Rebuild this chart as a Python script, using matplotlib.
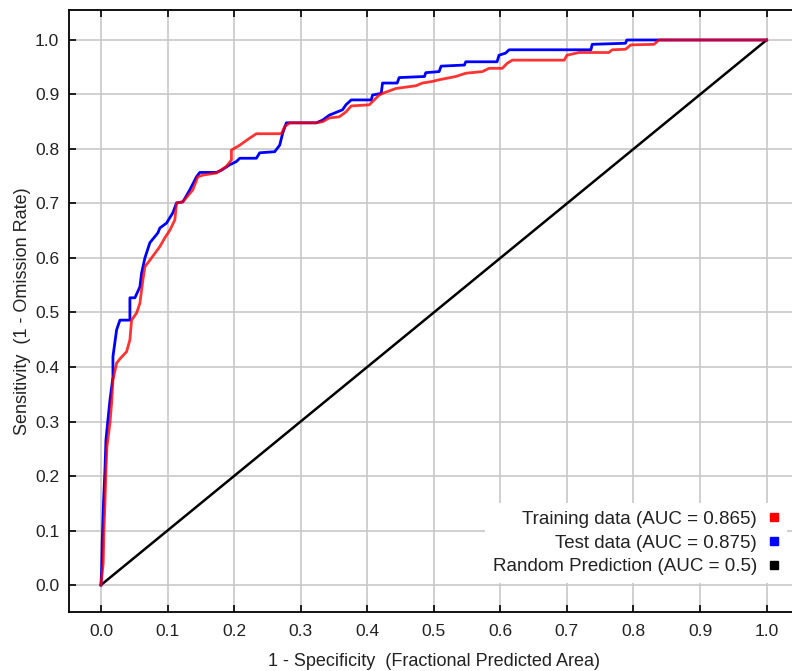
import numpy as np
import matplotlib
matplotlib.use("Agg")
import matplotlib.pyplot as plt
from matplotlib.lines import Line2D

# ROC vertices (x = 1 - specificity, y = sensitivity)
train_x = [0.0, 0.0034, 0.0045, 0.006, 0.0075, 0.009, 0.0135, 0.016, 0.018,
           0.0235, 0.0285, 0.0385, 0.0435, 0.046, 0.0535, 0.0585, 0.063,
           0.066, 0.0735, 0.0885, 0.096, 0.1035, 0.111, 0.1135, 0.123, 0.138,
           0.1455, 0.153, 0.1735, 0.1885, 0.196, 0.196, 0.2085, 0.2235,
           0.2335, 0.271, 0.276, 0.2835, 0.3235, 0.333, 0.343, 0.358, 0.368,
           0.376, 0.403, 0.418, 0.423, 0.443, 0.473, 0.483, 0.498, 0.508,
           0.533, 0.548, 0.573, 0.583, 0.603, 0.610, 0.618, 0.696, 0.700,
           0.718, 0.763, 0.768, 0.788, 0.796, 0.831, 0.838, 1.0]
train_y = [0.0, 0.040, 0.101, 0.150, 0.211, 0.254, 0.297, 0.334, 0.376,
           0.407, 0.415, 0.428, 0.450, 0.486, 0.499, 0.517, 0.560,
           0.584, 0.596, 0.621, 0.637, 0.651, 0.670, 0.701, 0.703, 0.725,
           0.749, 0.752, 0.756, 0.768, 0.780, 0.798, 0.807, 0.820,
           0.828, 0.828, 0.841, 0.848, 0.848, 0.850, 0.857, 0.859, 0.868,
           0.879, 0.881, 0.899, 0.902, 0.911, 0.916, 0.921, 0.924, 0.927,
           0.933, 0.939, 0.942, 0.948, 0.948, 0.957, 0.963, 0.963, 0.972,
           0.977, 0.977, 0.982, 0.983, 0.991, 0.992, 1.0, 1.0]

test_x = [0.0, 0.001, 0.002, 0.004, 0.006, 0.0075, 0.0105, 0.0135, 0.0165,
          0.018, 0.018, 0.0235, 0.0285, 0.0435, 0.0435, 0.051, 0.0585,
          0.061, 0.066, 0.0735, 0.0855, 0.0885, 0.0985, 0.108, 0.1135,
          0.123, 0.1335, 0.1435, 0.1485, 0.1735, 0.181, 0.1935, 0.2035,
          0.2085, 0.2335, 0.2385, 0.261, 0.2685, 0.273, 0.2785, 0.3235,
          0.333, 0.343, 0.363, 0.368, 0.376, 0.406, 0.408, 0.421, 0.423,
          0.445, 0.448, 0.486, 0.488, 0.508, 0.511, 0.546, 0.548, 0.595,
          0.598, 0.608, 0.613, 0.736, 0.738, 0.788, 0.790, 1.0]
test_y = [0.0, 0.028, 0.083, 0.156, 0.211, 0.266, 0.303, 0.339, 0.367,
          0.382, 0.419, 0.468, 0.486, 0.486, 0.527, 0.527, 0.547,
          0.572, 0.600, 0.628, 0.646, 0.655, 0.664, 0.683, 0.701,
          0.703, 0.725, 0.749, 0.757, 0.757, 0.761, 0.771, 0.777,
          0.783, 0.783, 0.793, 0.795, 0.807, 0.829, 0.848, 0.848,
          0.853, 0.862, 0.872, 0.881, 0.890, 0.890, 0.899, 0.902, 0.921,
          0.921, 0.931, 0.933, 0.940, 0.942, 0.952, 0.954, 0.960, 0.960,
          0.972, 0.976, 0.982, 0.982, 0.992, 0.994, 1.0, 1.0]

random_x = [0.0, 1.0]
random_y = [0.0, 1.0]

labels = ["Training data (AUC = 0.865)", "Test data (AUC = 0.875)",
          "Random Prediction (AUC = 0.5)"]
ticks = np.round(np.arange(0, 1.01, 0.1), 1)

plt.rcParams["font.family"] = ["Liberation Sans", "DejaVu Sans"]

fig = plt.figure(figsize=(7.92, 6.71), dpi=100)
ax = fig.add_axes([69 / 792, 1 - 612 / 671, 1 - 69 / 792 + 0.01, (612 - 10) / 671])

ax.plot(random_x, random_y, color="black", lw=1.8, zorder=3)
ax.plot(test_x, test_y, color="#0000ff", lw=2.0, zorder=4)
ax.plot(train_x, train_y, color="#ff0000", lw=2.0, alpha=0.8, zorder=5)

ax.set_xlim(-0.048, 1.05)
ax.set_ylim(-0.0495, 1.055)
ax.set_xticks(ticks)
ax.set_yticks(ticks)
ax.set_xticklabels(["%.1f" % t for t in ticks])
ax.set_yticklabels(["%.1f" % t for t in ticks])
ax.grid(True, color="#c8c8c8", lw=1.2)
ax.set_axisbelow(True)
ax.tick_params(direction="in", length=5, width=1.2, labelsize=12.5,
               top=True, colors="black", pad=9, labelcolor="#222222")
ax.tick_params(axis="y", pad=7)
ax.spines["right"].set_visible(False)
for s in ["left", "top", "bottom"]:
    ax.spines[s].set_linewidth(1.3)

ax.set_xlabel("1 - Specificity  (Fractional Predicted Area)", fontsize=13,
              labelpad=10, color="#222222")
ax.set_ylabel("Sensitivity  (1 - Omission Rate)", fontsize=13, color="#222222")
ax.yaxis.set_label_coords(-0.052, 0.5)

handles = [Line2D([], [], color=c, marker="s", ls="none", markersize=6)
           for c in ["#ff0000", "#0000ff", "black"]]
leg = ax.legend(handles, labels, loc="lower right", markerfirst=False,
                frameon=True, fancybox=False, framealpha=1, facecolor="white",
                edgecolor="none", fontsize=13.5, handlelength=0.6,
                handletextpad=0.6, labelspacing=0.35, borderpad=0.4,
                bbox_to_anchor=(0.995, 0.033), labelcolor="#222222")
leg.set_zorder(6)

fig.savefig("out.png", dpi=100)
